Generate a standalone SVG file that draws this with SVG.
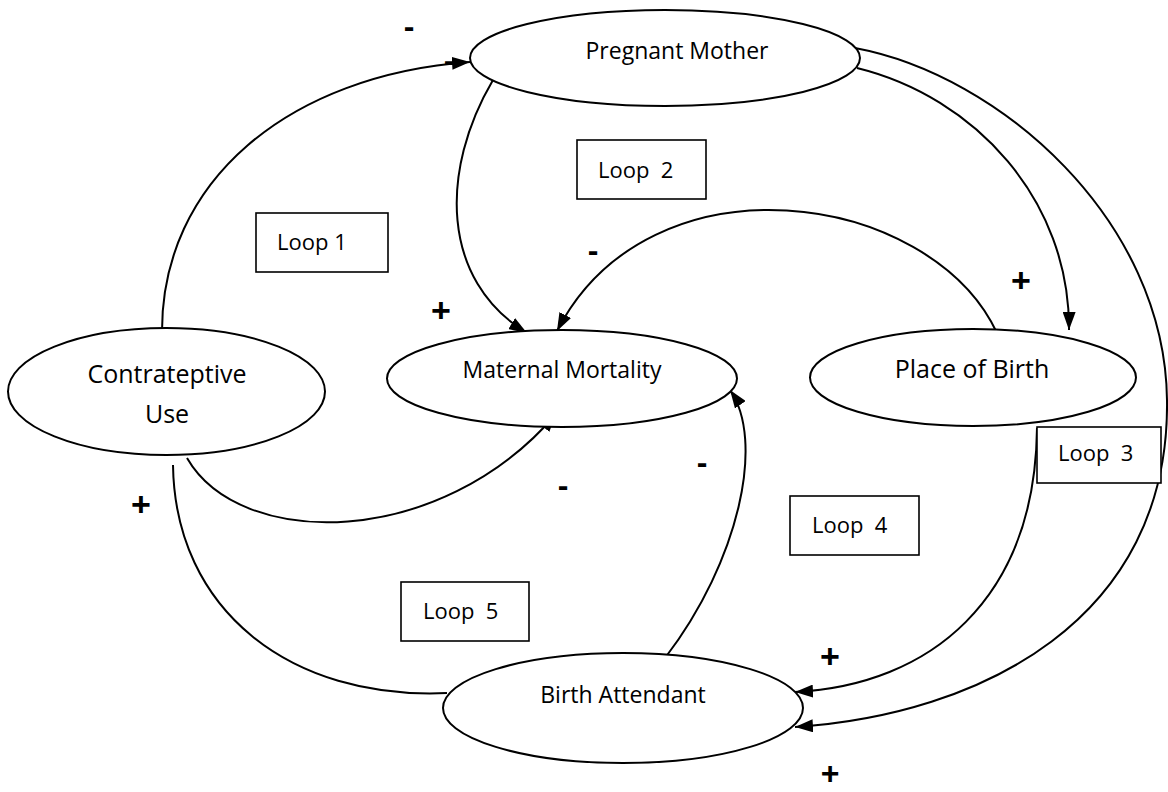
<svg xmlns="http://www.w3.org/2000/svg" width="1168" height="792" viewBox="0 0 1168 792">
<style>
.node{fill:#fff;stroke:#000;stroke-width:2}
.lbl{font-family:"Open Sans","Liberation Sans",sans-serif;font-size:23px;fill:#000;text-anchor:middle}
.big{font-size:25px}
.box{fill:#fff;stroke:#000;stroke-width:1.6}
.loop{font-family:"Open Sans","Liberation Sans",sans-serif;font-size:22px;fill:#000}
.edge{fill:none;stroke:#000;stroke-width:2}
.sign{font-family:"Liberation Sans",Arial,sans-serif;font-weight:bold;font-size:34px;fill:#000;text-anchor:middle}
.minus{font-size:32px}
</style>
<defs>
<marker id="arr" markerWidth="18" markerHeight="13" refX="18" refY="6.5" orient="auto" markerUnits="userSpaceOnUse"><path d="M0,0 L18,6.5 L0,13 z" fill="#000"/></marker>
</defs>
<rect width="1168" height="792" fill="#fff"/>
<g id="connectors">
<path class="edge" d="M162 335 C160 180 290 75 470 62" marker-end="url(#arr)"/>
<path class="edge" d="M493 80 C440 170 440 280 527 333" marker-end="url(#arr)"/>
<path class="edge" d="M997 333 C930 190 650 150 557 331" marker-end="url(#arr)"/>
<path class="edge" d="M857 68 C975 97 1070 200 1069 330" marker-end="url(#arr)"/>
<path class="edge" d="M855 48 C1000 75 1165 220 1167 400 C1170 620 980 715 795 727" marker-end="url(#arr)"/>
<path class="edge" d="M1037 428 C1035 600 930 685 795 692" marker-end="url(#arr)"/>
<path class="edge" d="M665 658 C740 560 765 440 730 390" marker-end="url(#arr)"/>
<path class="edge" d="M187 458 C240 550 440 550 556 414" marker-end="url(#arr)"/>
<path class="edge" d="M173 465 C175 610 290 700 447 693"/>
</g>
<g id="node-pregnant-mother">
<ellipse class="node" cx="665" cy="58" rx="195" ry="48"/>
<text class="lbl" x="677" y="59">Pregnant Mother</text>
</g>
<g id="node-contraceptive-use">
<ellipse class="node" cx="166.5" cy="391.5" rx="158.5" ry="63.5"/>
<text class="lbl big" x="167" y="383">Contrateptive</text>
<text class="lbl big" x="167" y="423">Use</text>
</g>
<g id="node-maternal-mortality">
<ellipse class="node" cx="562" cy="378.5" rx="175" ry="48.5"/>
<text class="lbl" x="562" y="378">Maternal Mortality</text>
</g>
<g id="node-place-of-birth">
<ellipse class="node" cx="973" cy="377.5" rx="163" ry="48.5"/>
<text class="lbl big" x="972" y="378">Place of Birth</text>
</g>
<g id="node-birth-attendant">
<ellipse class="node" cx="623" cy="708" rx="180" ry="55"/>
<text class="lbl" x="623" y="703">Birth Attendant</text>
</g>
<g id="loop-1"><rect class="box" x="256" y="213" width="132" height="59"/><text class="loop" x="277" y="250">Loop 1</text></g>
<g id="loop-2"><rect class="box" x="577" y="140" width="129" height="59"/><text class="loop" x="598" y="178" xml:space="preserve">Loop  2</text></g>
<g id="loop-3"><rect class="box" x="1037" y="427" width="124" height="56"/><text class="loop" x="1058" y="461" xml:space="preserve">Loop  3</text></g>
<g id="loop-4"><rect class="box" x="790" y="496" width="129" height="59"/><text class="loop" x="812" y="533" xml:space="preserve">Loop  4</text></g>
<g id="loop-5"><rect class="box" x="401" y="582" width="128" height="59"/><text class="loop" x="423" y="619" xml:space="preserve">Loop  5</text></g>
<g id="signs">
<text class="sign minus" x="409" y="37">-</text>
<text class="sign minus" x="449" y="71">-</text>
<text class="sign minus" x="593" y="261">-</text>
<text class="sign minus" x="563" y="496">-</text>
<text class="sign minus" x="702" y="473">-</text>
<text class="sign" x="441" y="322">+</text>
<text class="sign" x="1021" y="292">+</text>
<text class="sign" x="830" y="668">+</text>
<text class="sign" x="830" y="784" style="font-size:32px">+</text>
<text class="sign" x="141" y="516">+</text>
</g>
</svg>
